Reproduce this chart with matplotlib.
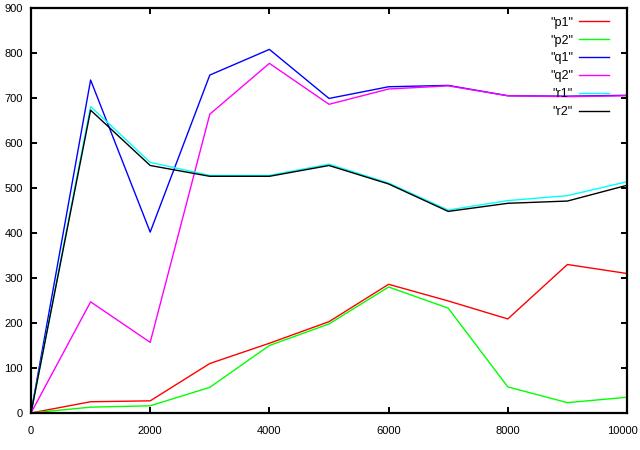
import matplotlib
matplotlib.use("Agg")
import matplotlib.pyplot as plt
from matplotlib.transforms import ScaledTranslation

plt.rcParams['font.family'] = ['Liberation Sans', 'DejaVu Sans']

x = [0, 1000, 2000, 3000, 4000, 5000, 6000, 7000, 8000, 9000, 10000]
p1 = [0, 25, 27, 110, 155, 203, 286, 249, 209, 330, 310]
p2 = [0, 13, 16, 57, 150, 198, 280, 233, 58, 23, 35]
q1 = [0, 740, 402, 751, 808, 699, 725, 728, 705, 704, 706]
q2 = [0, 247, 157, 664, 777, 686, 720, 727, 705, 703, 705]
r1 = [0, 681, 557, 528, 528, 553, 511, 451, 472, 483, 514]
r2 = [0, 673, 550, 526, 526, 550, 509, 448, 466, 471, 506]

series = [('"p1"', p1, '#ff0000'), ('"p2"', p2, '#00ff00'),
          ('"q1"', q1, '#0000ff'), ('"q2"', q2, '#ff00ff'),
          ('"r1"', r1, '#00ffff'), ('"r2"', r2, '#000000')]

fig = plt.figure(figsize=(6.4, 4.5), dpi=100)
ax = fig.add_axes([31 / 640, 37 / 450, 596 / 640, 405 / 450])

for label, vals, color in series:
    ax.plot(x, vals, color=color, linewidth=1.0, label=label)

ax.set_xlim(0, 10000)
ax.set_ylim(0, 900)
ax.set_xticks(range(0, 10001, 2000))
ax.set_yticks(range(0, 901, 100))
ax.tick_params(direction='in', length=4, width=1.4, top=True, right=True,
               labelsize=8, pad=6)
ax.tick_params(axis='x', pad=9)
for s in ax.spines.values():
    s.set_linewidth(1.6)

# last x label sits at the right edge; nudge it so it stays inside
fig.canvas.draw()
last = ax.get_xticklabels()[-1]
last.set_transform(last.get_transform() + ScaledTranslation(-5 / 100, 0, fig.dpi_scale_trans))

ax.legend(loc='upper right', frameon=False, markerfirst=False, fontsize=9,
          handlelength=2.4, handletextpad=0.5, labelspacing=0.47,
          borderaxespad=0.3, bbox_to_anchor=(0.985, 1.0))

fig.savefig("out.png", dpi=100)
